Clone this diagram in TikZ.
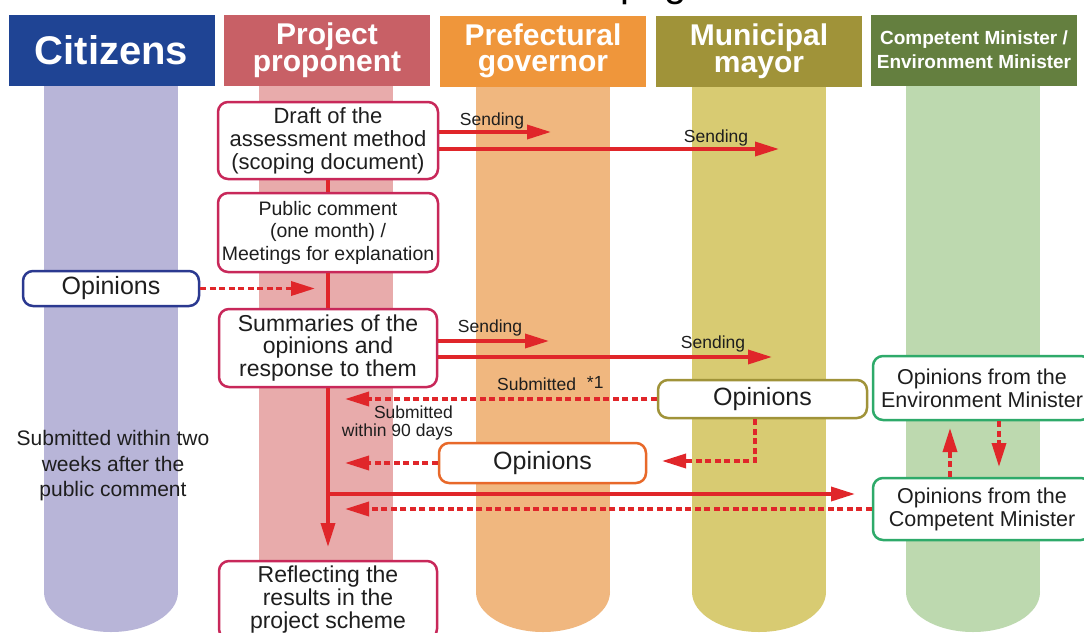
\documentclass[tikz,border=0pt]{standalone}
\usepackage{fontspec}
\setmainfont{Liberation Sans}
\usetikzlibrary{arrows.meta}
\definecolor{citH}{HTML}{1F4494}
\definecolor{citC}{HTML}{B8B5D8}
\definecolor{proH}{HTML}{C86066}
\definecolor{proC}{HTML}{E8ABAB}
\definecolor{preH}{HTML}{EF963B}
\definecolor{preC}{HTML}{F0B77F}
\definecolor{munH}{HTML}{A09339}
\definecolor{munC}{HTML}{D8CB72}
\definecolor{minH}{HTML}{647F3F}
\definecolor{minC}{HTML}{BDD9AF}
\definecolor{crim}{HTML}{C8285A}
\definecolor{arr}{HTML}{E0262A}
\definecolor{cbor}{HTML}{2B3990}
\definecolor{pbor}{HTML}{E8692A}
\definecolor{mbor}{HTML}{A09339}
\definecolor{gbor}{HTML}{2EAA6A}
\definecolor{txt}{HTML}{1E1E1E}
\begin{document}
\begin{tikzpicture}[x=1pt,y=-1pt,
  hdr/.style={fill=#1,text=white,minimum width=206pt,minimum height=71pt,inner sep=0pt,align=center},
  box/.style={draw=#1,line width=2.5pt,rounded corners=10pt,fill=white,inner sep=0pt,align=center,text=txt},
  sarrow/.style={draw=arr,line width=3.5pt,-{Triangle[length=24pt,width=14pt]}},
  darrow/.style={sarrow,dash pattern=on 6pt off 3.5pt},
  sline/.style={draw=arr,line width=3.5pt},
  lbl/.style={text=txt,inner sep=0pt,font=\fontsize{17.5}{18}\selectfont,align=center},
  frag/.style={anchor=base west,inner sep=0pt,font=\fontsize{40}{40}\selectfont},
]
\useasboundingbox (0,0) rectangle (1084,632);
\fill[white] (0,0) rectangle (1084,632);

% columns
\foreach \cx/\c in {111/citC,326/proC,543/preC,759/munC,973/minC}{
  \fill[\c] (\cx-67,85) rectangle (\cx+67,592);
  \fill[\c] (\cx,592) ellipse[x radius=67pt,y radius=40pt];
}

% title fragments (descenders of a cut-off title)
\begin{scope}
\clip (0,0) rectangle (1084,6);
\node[frag] (tp) at (620,-3.5) {p};
\node[frag] (tg) at (664,-3.5) {g};
\end{scope}

% headers
\node[hdr=citH,font=\bfseries\fontsize{40}{40}\selectfont] (hcit) at (111.5,50) {Citizens};
\node[hdr=proH,font=\bfseries\fontsize{30}{26.5}\selectfont] (hpro) at (327,50) {Project\\proponent};
\node[hdr=preH,font=\bfseries\fontsize{30}{26.5}\selectfont] (hpre) at (543,51) {Prefectural\\governor};
\node[hdr=munH,font=\bfseries\fontsize{30}{26.5}\selectfont] (hmun) at (759,51) {Municipal\\mayor};
\node[hdr=minH,font=\bfseries\fontsize{19}{24}\selectfont] (hmin) at (974,50) {Competent Minister /\\Environment Minister};

% boxes
\node[box=crim,minimum width=220pt,minimum height=77pt,font=\fontsize{22}{23}\selectfont] (draft) at (328,140.5) {Draft of the\\assessment method\\(scoping document)};
\node[box=crim,minimum width=220pt,minimum height=79pt,font=\fontsize{19.5}{22.5}\selectfont] (pub) at (328,232.5) {Public comment\\(one month) /\\Meetings for explanation};
\node[box=crim,minimum width=218pt,minimum height=78pt,font=\fontsize{23}{22.5}\selectfont] (sum) at (328,348) {Summaries of the\\opinions and\\response to them};
\node[box=crim,minimum width=218pt,minimum height=78pt,font=\fontsize{23}{23}\selectfont] (refl) at (328,600) {Reflecting the\\results in the\\project scheme};
\node[box=cbor,minimum width=176pt,minimum height=35pt,font=\fontsize{25}{25}\selectfont] (cop) at (111,288.5) {Opinions};
\node[box=pbor,minimum width=207pt,minimum height=40pt,font=\fontsize{25}{25}\selectfont] (pop) at (542.5,463) {Opinions};
\node[box=mbor,minimum width=209pt,minimum height=38pt,font=\fontsize{25}{25}\selectfont] (mop) at (762.5,399) {Opinions};
\node[box=gbor,minimum width=218pt,minimum height=64pt,font=\fontsize{21.5}{23}\selectfont] (env) at (982,388) {Opinions from the\\Environment Minister};
\node[box=gbor,minimum width=218pt,minimum height=62pt,font=\fontsize{21.5}{23}\selectfont] (cmp) at (982,509) {Opinions from the\\Competent Minister};

% coordinates
\coordinate (s1) at (551,132);
\coordinate (s2) at (779,149);
\coordinate (s3) at (549,341);
\coordinate (s4) at (772,357);
\coordinate (t0) at (315,288.5);
\coordinate (t1) at (345,399);
\coordinate (t2) at (345,463);
\coordinate (t3) at (345,509);
\coordinate (vend) at (328,547);
\coordinate (j1) at (328,494);
\coordinate (j2) at (855,494);
\coordinate (u1) at (950,428);
\coordinate (d1) at (999,467);
\coordinate (e1) at (755,461);
\coordinate (e2) at (662,461);

% connectors
\draw[sline] (draft.south) -- (pub.north);
\draw[sline] (pub.south) -- (sum.north);
\draw[sarrow] (sum.south) -- (vend);
\draw[sarrow] (draft.east |- s1) -- (s1);
\draw[sarrow] (draft.east |- s2) -- (s2);
\draw[sarrow] (sum.east |- s3) -- (s3);
\draw[sarrow] (sum.east |- s4) -- (s4);
\draw[darrow] (cop.east) -- (t0);
\draw[darrow] (mop.west) -- (t1);
\draw[darrow] (pop.west) -- (t2);
\draw[darrow] (cmp.west) -- (t3);
\draw[sarrow] (j1) -- (j2);
\draw[darrow] (cmp.north -| u1) -- (u1);
\draw[darrow] (env.south -| d1) -- (d1);
\draw[darrow] (mop.south -| e1) -- (e1) -- (e2);

% labels
\node[lbl] (ls1) at (492,121) {Sending};
\node[lbl] (ls2) at (716,138) {Sending};
\node[lbl] (ls3) at (490,328) {Sending};
\node[lbl] (ls4) at (713,344) {Sending};
\node[lbl,anchor=west] (lsub) at (497,384) {Submitted\hspace{11pt}\raisebox{2pt}{*1}};
\node[lbl,anchor=east,align=right] (l90) at (453,423) {Submitted\\within 90 days};
\node[text=txt,inner sep=0pt,font=\fontsize{21}{25.5}\selectfont,align=center] (cnote) at (113,466) {Submitted within two\\weeks after the\\public comment};
\end{tikzpicture}
\end{document}
